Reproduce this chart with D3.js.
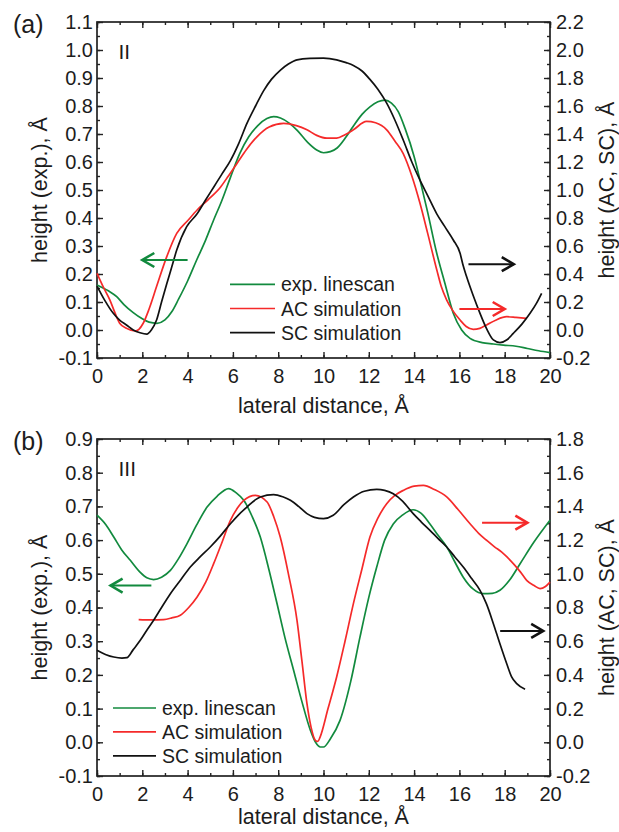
<!DOCTYPE html>
<html>
<head>
<meta charset="utf-8">
<script src="https://cdnjs.cloudflare.com/ajax/libs/d3/7.8.5/d3.min.js"></script>
<style>
  body { margin: 0; background: #fff; }
  svg { font-family: "Liberation Sans", Arial, sans-serif; background: #fff; }
  .tick text { font-family: "Liberation Sans", Arial, sans-serif; font-size: 20px; fill: #1c1c1c; }
  .tick line { stroke: #222; stroke-width: 1.4; }
  .curve { fill: none; stroke-width: 1.7; }
</style>
</head>
<body>
<svg id="chart" width="619" height="832"></svg>
<script>
/*
  Two linescan panels: measured height (left axis) versus
  AC and SC simulated heights (right axis) over lateral distance.
*/

var xTicks = d3.range(0, 21, 2);

// panel (a), structure II -- [lateral distance, height]
var expA = [[0,0.161],[0.5,0.14],[0.87,0.119],[1.2,0.09],[1.6,0.062],[2.0,0.04],[2.3,0.028],
  [2.65,0.024],[3.0,0.036],[3.3,0.065],[3.6,0.11],[4.0,0.175],[4.4,0.25],[4.8,0.322],[5.15,0.393],
  [5.5,0.46],[5.9,0.547],[6.3,0.63],[6.7,0.69],[7.1,0.73],[7.5,0.755],[7.8,0.762],[8.1,0.757],
  [8.5,0.738],[8.85,0.712],[9.3,0.67],[9.7,0.643],[10.0,0.633],[10.3,0.637],[10.6,0.65],
  [11.0,0.69],[11.3,0.726],[11.7,0.77],[12.05,0.797],[12.4,0.815],[12.72,0.821],[13.0,0.81],
  [13.3,0.78],[13.6,0.72],[14.0,0.62],[14.26,0.536],[14.6,0.42],[15.0,0.274],[15.35,0.17],
  [15.73,0.06],[16.1,0.0],[16.47,-0.03],[17.0,-0.045],[17.5,-0.05],[17.94,-0.054],[18.5,-0.058],
  [19.0,-0.066],[19.5,-0.074],[20,-0.081]];
var acA = [[0,0.405],[0.3,0.3],[0.57,0.214],[0.8,0.12],[1.0,0.048],[1.3,0.012],[1.68,-0.007],
  [1.85,0.005],[2.04,0.048],[2.3,0.15],[2.63,0.31],[3.08,0.524],[3.52,0.69],[4.0,0.78],
  [4.42,0.857],[4.9,0.93],[5.45,1.02],[5.8,1.1],[6.18,1.19],[6.6,1.29],[7.06,1.38],[7.6,1.45],
  [8.24,1.476],[8.8,1.46],[9.27,1.43],[9.7,1.39],[10.15,1.37],[10.58,1.37],[10.95,1.395],
  [11.32,1.43],[11.9,1.49],[12.3,1.48],[12.79,1.43],[13.15,1.35],[13.52,1.26],[13.9,1.1],
  [14.26,0.905],[14.6,0.69],[15.0,0.43],[15.2,0.31],[15.44,0.214],[15.7,0.14],[16.03,0.071],
  [16.3,0.025],[16.61,0.005],[16.9,0.012],[17.2,0.036],[17.6,0.07],[18.09,0.095],[18.5,0.09],
  [18.97,0.083]];
var scA = [[0,0.314],[0.35,0.21],[0.72,0.119],[1.0,0.07],[1.3,0.036],[1.6,0.0],[1.9,-0.02],
  [2.2,-0.03],[2.4,0.0],[2.63,0.071],[2.85,0.2],[3.08,0.33],[3.3,0.45],[3.52,0.571],[3.96,0.738],
  [4.42,0.83],[4.8,0.93],[5.15,1.02],[5.5,1.11],[5.89,1.21],[6.25,1.33],[6.62,1.476],[7.0,1.6],
  [7.36,1.71],[7.7,1.79],[8.1,1.857],[8.45,1.9],[8.83,1.93],[9.4,1.94],[10.0,1.942],[10.58,1.93],
  [11.0,1.91],[11.32,1.89],[11.7,1.85],[12.05,1.79],[12.4,1.72],[12.79,1.62],[13.15,1.5],
  [13.52,1.357],[13.9,1.2],[14.26,1.07],[14.6,0.96],[15.0,0.83],[15.35,0.74],[15.73,0.643],
  [16.03,0.548],[16.15,0.47],[16.32,0.38],[16.6,0.25],[16.91,0.119],[17.2,0.01],[17.5,-0.071],
  [17.79,-0.09],[18.1,-0.07],[18.38,-0.024],[18.75,0.04],[19.12,0.119],[19.4,0.19],[19.63,0.262]];
// arrows: [series, from x, to x, height on that series' axis]
var arrowsA = [["exp",4.0,2.0,0.25],["sc",16.4,18.4,0.47],["ac",16.0,18.0,0.15]];

// panel (b), structure III
var expB = [[0,0.674],[0.4,0.645],[0.74,0.609],[1.1,0.57],[1.47,0.54],[1.9,0.505],[2.2,0.488],
  [2.5,0.483],[2.85,0.49],[3.24,0.51],[3.6,0.545],[3.97,0.589],[4.4,0.645],[4.86,0.698],
  [5.3,0.73],[5.81,0.753],[6.15,0.74],[6.48,0.718],[6.85,0.67],[7.21,0.609],[7.6,0.51],
  [7.95,0.411],[8.3,0.31],[8.68,0.214],[9.05,0.12],[9.42,0.036],[9.65,0.0],[9.86,-0.014],
  [10.0,-0.014],[10.3,0.01],[10.73,0.065],[11.2,0.18],[11.61,0.312],[12.0,0.43],[12.35,0.52],
  [12.7,0.6],[13.08,0.648],[13.5,0.675],[13.96,0.69],[14.3,0.68],[14.7,0.648],[15.05,0.615],
  [15.44,0.58],[15.8,0.535],[16.17,0.49],[16.6,0.455],[17.06,0.441],[17.45,0.442],[17.79,0.451],
  [18.2,0.48],[18.68,0.53],[19.3,0.595],[20,0.659]];
var acB = [[1.84,0.728],[2.4,0.726],[2.94,0.728],[3.3,0.738],[3.68,0.754],[4.05,0.8],[4.42,0.862],
  [4.8,0.95],[5.15,1.06],[5.5,1.18],[5.89,1.317],[6.2,1.39],[6.48,1.436],[6.99,1.466],[7.51,1.426],
  [7.8,1.34],[8.09,1.218],[8.45,1.0],[8.83,0.724],[9.05,0.48],[9.27,0.229],[9.45,0.09],
  [9.64,0.012],[9.75,0.005],[9.85,0.031],[10.2,0.2],[10.58,0.388],[10.95,0.6],[11.32,0.823],
  [11.7,1.03],[12.05,1.218],[12.4,1.33],[12.79,1.416],[13.15,1.465],[13.52,1.495],[14.0,1.52],
  [14.41,1.525],[14.9,1.5],[15.44,1.456],[15.95,1.38],[16.47,1.297],[16.85,1.24],[17.2,1.199],
  [17.55,1.16],[17.87,1.129],[18.1,1.1],[18.38,1.06],[18.7,1.01],[18.97,0.961],[19.3,0.93],
  [19.56,0.912],[19.8,0.925],[20,0.951]];
var scB = [[0,0.546],[0.4,0.52],[0.74,0.506],[1.1,0.5],[1.32,0.502],[1.6,0.55],[1.91,0.605],
  [2.2,0.665],[2.5,0.724],[2.85,0.8],[3.24,0.882],[3.7,0.965],[4.12,1.04],[4.55,1.1],[5.0,1.159],
  [5.45,1.225],[5.89,1.297],[6.25,1.35],[6.62,1.396],[7.0,1.44],[7.21,1.456],[7.8,1.47],
  [8.2,1.457],[8.54,1.436],[8.9,1.4],[9.27,1.357],[9.6,1.335],[10.0,1.327],[10.43,1.347],
  [10.9,1.41],[11.32,1.456],[11.8,1.49],[12.35,1.501],[12.7,1.495],[13.08,1.475],[13.5,1.43],
  [13.96,1.357],[14.3,1.31],[14.7,1.258],[15.05,1.21],[15.44,1.159],[15.8,1.1],[16.17,1.04],
  [16.55,0.97],[16.91,0.902],[17.2,0.82],[17.5,0.704],[17.8,0.58],[18.09,0.466],[18.3,0.39],
  [18.53,0.348],[18.9,0.315]];
var arrowsB = [["exp",2.4,0.6,0.465],["ac",17.0,19.0,1.303],["sc",17.8,19.7,0.661]];

var seriesKeys = ["exp", "ac", "sc"];
var legendLabels = ["exp. linescan", "AC simulation", "SC simulation"];

var COLORS = {exp: "#128a3e", ac: "#f52a2a", sc: "#111111"};
var INK = "#1c1c1c";

var svg = d3.select("#chart");
var left = 97, right = 550;

function makePanel(p) {
  /*  Draws one panel with both y axes, curves, arrows and legend.
      Args:
        p   panel settings (pixel frame, domains, data, labels).
  */
  var g = svg.append("g");

  var x = d3.scaleLinear().domain([0, 20]).range([left, right]);
  var yL = d3.scaleLinear().domain(p.leftDomain).range([p.bottom, p.top]);
  var yR = d3.scaleLinear().domain(p.rightDomain).range([p.bottom, p.top]);
  var fmt = function(d) { return d.toFixed(1); };

  var lMajor = d3.range(Math.round(p.leftDomain[0] * 10), Math.round(p.leftDomain[1] * 10) + 1)
    .map(function(d) { return d / 10; });
  var lMinor = d3.range(Math.round(p.leftDomain[0] * 20), Math.round(p.leftDomain[1] * 20) + 1)
    .map(function(d) { return d / 20; });
  var rMajor = d3.range(Math.round(p.rightDomain[0] * 5), Math.round(p.rightDomain[1] * 5) + 1)
    .map(function(d) { return d / 5; });

  // minor ticks
  g.append("g").attr("transform", "translate(0," + p.bottom + ")")
    .call(d3.axisBottom(x).tickValues(d3.range(0, 21)).tickSize(-3).tickFormat(""));
  g.append("g").attr("transform", "translate(0," + p.top + ")")
    .call(d3.axisTop(x).tickValues(d3.range(0, 21)).tickSize(-3).tickFormat(""));
  g.append("g").attr("transform", "translate(" + left + ",0)")
    .call(d3.axisLeft(yL).tickValues(lMinor).tickSize(-3).tickFormat(""));
  g.append("g").attr("transform", "translate(" + right + ",0)")
    .call(d3.axisRight(yL).tickValues(lMinor).tickSize(-3).tickFormat(""));

  // major ticks and labels
  g.append("g").attr("transform", "translate(0," + p.bottom + ")")
    .call(d3.axisBottom(x).tickValues(xTicks).tickSize(-6).tickPadding(11).tickFormat(d3.format("d")));
  g.append("g").attr("transform", "translate(0," + p.top + ")")
    .call(d3.axisTop(x).tickValues(xTicks).tickSize(-6).tickFormat(""));
  g.append("g").attr("transform", "translate(" + left + ",0)")
    .call(d3.axisLeft(yL).tickValues(lMajor).tickSize(-6).tickPadding(4).tickFormat(fmt));
  g.append("g").attr("transform", "translate(" + right + ",0)")
    .call(d3.axisRight(yR).tickValues(rMajor).tickSize(-6).tickPadding(6).tickFormat(fmt));

  g.selectAll(".domain").remove();

  // frame
  g.append("rect")
    .attr("x", left).attr("y", p.top)
    .attr("width", right - left).attr("height", p.bottom - p.top)
    .attr("fill", "none").attr("stroke", "#222").attr("stroke-width", 1.7);

  // curves
  var data = {exp: p.exp, ac: p.ac, sc: p.sc};
  seriesKeys.forEach(function(k) {
    var yScale = k === "exp" ? yL : yR;
    var line = d3.line()
      .x(function(d) { return x(d[0]); })
      .y(function(d) { return yScale(d[1]); })
      .curve(d3.curveMonotoneX);
    g.append("path")
      .attr("class", "curve")
      .attr("stroke", COLORS[k])
      .attr("d", line(data[k]));
  });

  // arrows pointing to the axis each curve belongs to
  p.arrows.forEach(function(a) {
    var yScale = a[0] === "exp" ? yL : yR;
    var x1 = x(a[1]), x2 = x(a[2]), yy = yScale(a[3]);
    var dir = x2 > x1 ? 1 : -1;
    g.append("line")
      .attr("x1", x1).attr("x2", x2).attr("y1", yy).attr("y2", yy)
      .attr("stroke", COLORS[a[0]]).attr("stroke-width", 2);
    g.append("path")
      .attr("d", "M" + (x2 - dir * 12) + "," + (yy - 7) + "L" + x2 + "," + yy +
        "L" + (x2 - dir * 12) + "," + (yy + 7))
      .attr("fill", "none").attr("stroke", COLORS[a[0]]).attr("stroke-width", 2.6);
  });

  // legend
  seriesKeys.forEach(function(k, i) {
    var ly = p.legend.y + i * p.legend.dy;
    g.append("line")
      .attr("x1", p.legend.x).attr("x2", p.legend.x + p.legend.w)
      .attr("y1", ly).attr("y2", ly)
      .attr("stroke", COLORS[k]).attr("stroke-width", 1.7);
    g.append("text")
      .attr("x", p.legend.x + p.legend.w + 6).attr("y", ly + 7)
      .attr("font-size", 19.5).attr("fill", INK)
      .text(legendLabels[i]);
  });

  // axis titles
  var midY = (p.top + p.bottom) / 2;
  g.append("text")
    .attr("transform", "translate(47," + midY + ") rotate(-90)")
    .attr("text-anchor", "middle").attr("font-size", 21.5).attr("fill", INK)
    .text("height (exp.), \u00C5");
  g.append("text")
    .attr("transform", "translate(614," + midY + ") rotate(-90)")
    .attr("text-anchor", "middle").attr("font-size", 21.5).attr("fill", INK)
    .text("height (AC, SC), \u00C5");
  g.append("text")
    .attr("x", (left + right) / 2).attr("y", p.xTitleY)
    .attr("text-anchor", "middle").attr("font-size", 21.5).attr("fill", INK)
    .text("lateral distance, \u00C5");

  // panel letter and structure number
  g.append("text")
    .attr("x", 13).attr("y", p.top + 11)
    .attr("font-size", 25).attr("fill", INK)
    .text(p.letter);
  g.append("text")
    .attr("x", 118.5).attr("y", p.top + 36.5)
    .attr("font-size", 21).attr("fill", INK)
    .text(p.roman);
}

makePanel({
  top: 22, bottom: 358,
  leftDomain: [-0.1, 1.1], rightDomain: [-0.2, 2.2],
  exp: expA, ac: acA, sc: scA, arrows: arrowsA,
  legend: {x: 230, y: 284.3, dy: 24.2, w: 45},
  xTitleY: 413, letter: "(a)", roman: "II"
});

makePanel({
  top: 439, bottom: 776,
  leftDomain: [-0.1, 0.9], rightDomain: [-0.2, 1.8],
  exp: expB, ac: acB, sc: scB, arrows: arrowsB,
  legend: {x: 113, y: 708, dy: 23.9, w: 43},
  xTitleY: 824, letter: "(b)", roman: "III"
});
</script>
</body>
</html>
